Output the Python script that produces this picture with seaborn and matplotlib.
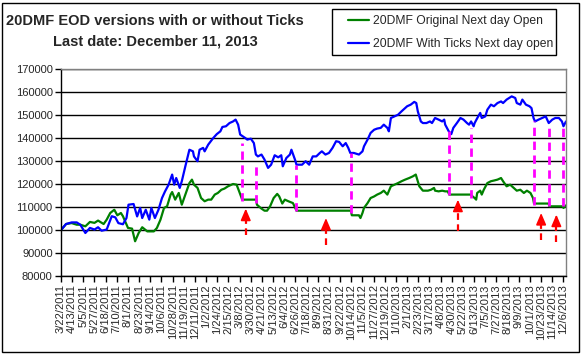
import numpy as np
import pandas as pd
import matplotlib
matplotlib.use("Agg")
import matplotlib.pyplot as plt
import matplotlib.patches as mpatches
import seaborn as sns

# 20DMF original, next day open
orig_dates = [
    "2011-03-22", "2011-04-01", "2011-04-12", "2011-04-22", "2011-04-29", "2011-05-09",
    "2011-05-18", "2011-05-27", "2011-06-03", "2011-06-14", "2011-06-20", "2011-06-27",
    "2011-07-05", "2011-07-11", "2011-07-18", "2011-07-22", "2011-08-01", "2011-08-09",
    "2011-08-15", "2011-08-22", "2011-08-29", "2011-09-08", "2011-09-21", "2011-09-27",
    "2011-10-04", "2011-10-11", "2011-10-17", "2011-10-24", "2011-10-27", "2011-11-02",
    "2011-11-09", "2011-11-15", "2011-11-22", "2011-11-30", "2011-12-05", "2011-12-09",
    "2011-12-16", "2011-12-23", "2011-12-30", "2012-01-06", "2012-01-12", "2012-01-19",
    "2012-01-25", "2012-02-01", "2012-02-07", "2012-02-14", "2012-02-24", "2012-03-02",
    "2012-03-07", "2012-03-13", "2012-04-10", "2012-04-11", "2012-04-20", "2012-04-26",
    "2012-05-01", "2012-05-07", "2012-05-14", "2012-05-21", "2012-05-25", "2012-05-31",
    "2012-06-05", "2012-06-12", "2012-06-21", "2012-06-28", "2012-10-13", "2012-10-15",
    "2012-10-29", "2012-11-01", "2012-11-05", "2012-11-08", "2012-11-15", "2012-11-21",
    "2012-11-28", "2012-12-04", "2012-12-11", "2012-12-17", "2012-12-24", "2012-12-31",
    "2013-01-07", "2013-01-14", "2013-01-21", "2013-01-28", "2013-02-05", "2013-02-12",
    "2013-02-18", "2013-02-21", "2013-02-25", "2013-03-04", "2013-03-14", "2013-03-20",
    "2013-03-26", "2013-03-28", "2013-04-04", "2013-04-11", "2013-04-17", "2013-04-22",
    "2013-04-25", "2013-06-06", "2013-06-10", "2013-06-14", "2013-06-17", "2013-06-19",
    "2013-06-25", "2013-06-28", "2013-07-02", "2013-07-09", "2013-07-16", "2013-07-22",
    "2013-07-29", "2013-08-05", "2013-08-09", "2013-08-16", "2013-08-23", "2013-08-30",
    "2013-09-05", "2013-09-12", "2013-09-19", "2013-09-25", "2013-10-02", "2013-10-07",
    "2013-10-09", "2013-11-07", "2013-11-08", "2013-12-05", "2013-12-06", "2013-12-11",
]
orig_vals = [
    100000, 102600, 103000, 102300, 102300, 101600,
    103500, 103100, 104100, 102600, 104500, 107400,
    108800, 106400, 107400, 106000, 100900, 100600,
    95100, 98700, 101200, 99400, 99400, 100900,
    104500, 109600, 110300, 115400, 116500, 113200,
    116100, 111000, 115400, 120400, 121900, 119700,
    118300, 113900, 112500, 113200, 113200, 115400,
    116100, 117500, 118000, 119000, 120000, 119700,
    116800, 113200, 113200, 111000, 109300, 108400,
    108400, 110300, 113900, 115700, 114600, 111500,
    113200, 112500, 111700, 108400, 108400, 106400,
    106400, 105200, 107400, 109600, 111700, 113900,
    114600, 115400, 116100, 117100, 115400, 119000,
    119700, 120400, 121200, 121900, 122600, 123300,
    124100, 121900, 119000, 117100, 117100, 117500,
    118300, 117100, 116800, 117100, 116800, 116800,
    115400, 115400, 114600, 113900, 113200, 116100,
    117100, 115400, 117500, 120400, 121200, 121500,
    121900, 122600, 121200, 119000, 119700, 118300,
    117100, 117500, 116100, 117100, 116100, 113900,
    111500, 111500, 110300, 110300, 109600, 110700,
]

# 20DMF with ticks, next day open
tick_dates = [
    "2011-03-22", "2011-04-01", "2011-04-12", "2011-04-22", "2011-04-29", "2011-05-09",
    "2011-05-18", "2011-05-27", "2011-06-03", "2011-06-10", "2011-06-20", "2011-06-30",
    "2011-07-07", "2011-07-13", "2011-07-22", "2011-07-29", "2011-08-02", "2011-08-12",
    "2011-08-19", "2011-08-25", "2011-08-29", "2011-09-05", "2011-09-12", "2011-09-16",
    "2011-09-23", "2011-09-30", "2011-10-07", "2011-10-13", "2011-10-20", "2011-10-27",
    "2011-10-31", "2011-11-04", "2011-11-11", "2011-11-15", "2011-11-22", "2011-11-30",
    "2011-12-07", "2011-12-09", "2011-12-16", "2011-12-20", "2011-12-27", "2011-12-30",
    "2012-01-06", "2012-01-16", "2012-01-23", "2012-01-30", "2012-02-03", "2012-02-10",
    "2012-02-17", "2012-02-24", "2012-02-29", "2012-03-05", "2012-03-09", "2012-03-19",
    "2012-03-23", "2012-03-30", "2012-04-05", "2012-04-09", "2012-04-13", "2012-04-20",
    "2012-04-26", "2012-05-03", "2012-05-09", "2012-05-16", "2012-05-23", "2012-05-29",
    "2012-06-01", "2012-06-08", "2012-06-15", "2012-06-18", "2012-06-25", "2012-06-28",
    "2012-07-09", "2012-07-16", "2012-07-23", "2012-07-30", "2012-08-06", "2012-08-13",
    "2012-08-17", "2012-08-24", "2012-08-31", "2012-09-07", "2012-09-14", "2012-09-20",
    "2012-09-27", "2012-10-03", "2012-10-08", "2012-10-12", "2012-10-19", "2012-10-29",
    "2012-11-05", "2012-11-08", "2012-11-15", "2012-11-21", "2012-11-28", "2012-12-04",
    "2012-12-11", "2012-12-17", "2012-12-24", "2012-12-27", "2012-12-31", "2013-01-07",
    "2013-01-14", "2013-01-21", "2013-01-28", "2013-02-01", "2013-02-08", "2013-02-15",
    "2013-02-19", "2013-02-22", "2013-02-28", "2013-03-04", "2013-03-11", "2013-03-18",
    "2013-03-22", "2013-03-28", "2013-04-04", "2013-04-11", "2013-04-15", "2013-04-17",
    "2013-04-24", "2013-04-29", "2013-05-03", "2013-05-10", "2013-05-17", "2013-05-23",
    "2013-05-30", "2013-06-03", "2013-06-07", "2013-06-12", "2013-06-14", "2013-06-21",
    "2013-06-25", "2013-06-28", "2013-07-05", "2013-07-09", "2013-07-16", "2013-07-22",
    "2013-07-29", "2013-08-05", "2013-08-09", "2013-08-16", "2013-08-21", "2013-08-26",
    "2013-09-02", "2013-09-05", "2013-09-12", "2013-09-16", "2013-09-23", "2013-09-30",
    "2013-10-04", "2013-10-08", "2013-10-11", "2013-10-18", "2013-10-25", "2013-11-01",
    "2013-11-07", "2013-11-14", "2013-11-20", "2013-11-27", "2013-12-03", "2013-12-06",
    "2013-12-11",
]
tick_vals = [
    100000, 102600, 103300, 103300, 102300, 98700,
    100900, 100200, 101200, 99700, 100200, 106000,
    105500, 103000, 102500, 105200, 111000, 111300,
    105900, 109600, 105200, 108800, 104500, 109600,
    105200, 108800, 113900, 116800, 119700, 124100,
    119700, 122600, 118300, 121200, 127700, 134900,
    134200, 132000, 129900, 134900, 135700, 134200,
    137100, 140000, 141700, 142900, 144800, 145100,
    146500, 147200, 148000, 145800, 141500, 140000,
    139300, 139700, 137800, 132800, 132000, 132800,
    130600, 127000, 128400, 132500, 131600, 132500,
    127700, 131300, 132800, 134900, 130600, 128400,
    128400, 129900, 128400, 132000, 132000, 133500,
    134200, 132800, 133500, 135700, 138600, 138300,
    136400, 137800, 135700, 133500, 133500, 132800,
    134200, 136400, 139300, 142200, 143600, 144100,
    144400, 145800, 144400, 142900, 148700, 149400,
    150100, 151600, 153000, 153800, 154500, 155700,
    155200, 151600, 147200, 146500, 146500, 147200,
    146500, 148700, 148000, 147200, 148000, 145800,
    142900, 141700, 144400, 146500, 148700, 148000,
    146500, 145800, 147200, 145100, 146500, 149400,
    150900, 148700, 149400, 152300, 154500, 153800,
    155200, 155900, 155200, 156700, 157400, 158100,
    157400, 155200, 154500, 156700, 154500, 153800,
    153000, 148700, 147200, 148000, 148700, 149400,
    146500, 148000, 148700, 148700, 147200, 145100,
    147200,
]

# magenta dashed markers between the two curves
pink_dates = ["2012-03-13", "2012-04-10", "2012-06-28", "2012-10-13", "2013-04-25",
              "2013-06-06", "2013-10-09", "2013-11-07", "2013-12-05"]
pink_low = [112500, 111700, 108100, 107400, 115400, 113900, 111000, 110300, 110300]
pink_high = [137800, 129100, 128400, 133500, 142900, 144400, 147200, 144400, 145100]

# red arrows
arrow_dates = ["2012-03-20", "2012-08-25", "2013-05-12", "2013-10-23", "2013-11-22"]
arrow_tail = [97950, 93600, 99400, 95800, 94800]
arrow_tip = [109300, 105200, 113200, 107400, 106700]

sns.set_style("white")
plt.rcParams["font.family"] = ["Liberation Sans", "DejaVu Sans"]

orig = pd.DataFrame({"date": pd.to_datetime(orig_dates), "value": orig_vals})
withticks = pd.DataFrame({"date": pd.to_datetime(tick_dates), "value": tick_vals})

fig = plt.figure(figsize=(5.82, 3.55), dpi=100)
ax = fig.add_axes([61 / 582, 1 - 276 / 355, 505 / 582, 207 / 355])

sns.lineplot(data=orig, x="date", y="value", ax=ax, color="#008000", lw=1.6,
             estimator=None, label="20DMF Original Next day Open")
sns.lineplot(data=withticks, x="date", y="value", ax=ax, color="#0000FF", lw=1.6,
             estimator=None, label="20DMF With Ticks Next day open")

ax.vlines(pd.to_datetime(pink_dates), pink_low, pink_high, colors="#FF00FF",
          linestyles=(0, (3, 2)), lw=2, zorder=3)

for d, t0, t1 in zip(pd.to_datetime(arrow_dates), arrow_tail, arrow_tip):
    ax.plot([d, d], [t0, t1 - 2500], color="#FF0000", lw=1.6, ls=(0, (3, 2)), zorder=4)
    ax.annotate("", xy=(d, t1), xytext=(d, t1 - 3500),
                arrowprops=dict(arrowstyle="-|>,head_length=0.7,head_width=0.3",
                                color="#FF0000", lw=1.2, shrinkA=0, shrinkB=0), zorder=4)

# axes
ax.set_ylim(80000, 170000)
ax.set_yticks(np.arange(80000, 170001, 10000))
ax.set_yticklabels([str(v) for v in range(80000, 170001, 10000)])
ax.set_xlim(pd.Timestamp("2011-03-22"), pd.Timestamp("2013-12-11"))
xt = pd.date_range("2011-03-22", "2013-12-06", freq="22D")
ax.set_xticks(xt)
ax.set_xticklabels([f"{d.month}/{d.day}/{d.year}" for d in xt], rotation=90)
ax.set_xlabel("")
ax.set_ylabel("")
ax.yaxis.grid(True, color="black", lw=1)
ax.xaxis.grid(False)
ax.set_axisbelow(True)
ax.tick_params(axis="both", direction="out", length=4, width=1, color="black",
               labelsize=8, pad=2, left=True, bottom=True)
for s in ["left", "bottom"]:
    ax.spines[s].set_color("black")
    ax.spines[s].set_linewidth(1)
for s in ["top", "right"]:
    ax.spines[s].set_color("#808080")
    ax.spines[s].set_linewidth(1)

# legend: entries placed inside a hand-drawn frame
h, l = ax.get_legend_handles_labels()
ax.get_legend().remove()
fig.legend(h, l, loc="upper left", bbox_to_anchor=(348 / 582, 1 - 15 / 355),
           fontsize=8.7, frameon=False, borderpad=0, borderaxespad=0,
           handlelength=1.75, handletextpad=0.35, labelspacing=0.9)
fig.patches.append(mpatches.Rectangle((332 / 582, 1 - 55 / 355), 224 / 582, 46 / 355,
                                      transform=fig.transFigure, fill=False,
                                      edgecolor="black", lw=1))

# title
fig.text(155 / 582, 1 - 21 / 355, "20DMF EOD versions with or without Ticks",
         ha="center", va="center", fontsize=10.5, weight="bold")
fig.text(155 / 582, 1 - 41 / 355, "Last date: December 11, 2013",
         ha="center", va="center", fontsize=10.5, weight="bold")

fig.patches.append(mpatches.Rectangle((2 / 582, 3 / 355), 577 / 582, 349 / 355,
                                      transform=fig.transFigure, fill=False,
                                      edgecolor="black", lw=1))

fig.savefig("out.png", dpi=100)
